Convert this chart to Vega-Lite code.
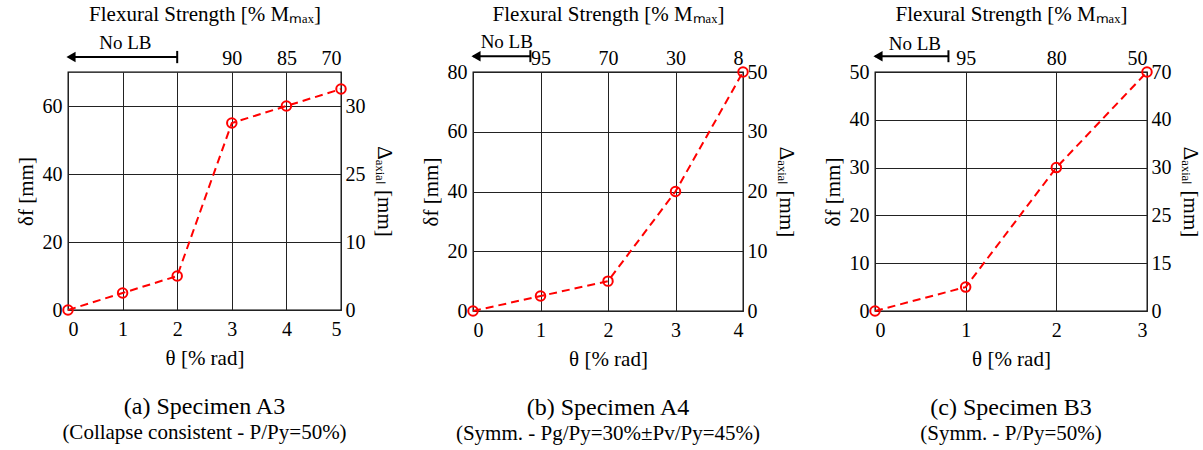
{
  "$schema": "https://vega.github.io/schema/vega-lite/v6.json",
  "padding": {"left": 14, "top": 2, "right": 2, "bottom": 2},
  "background": "white",
  "datasets": {
    "a": [
      {"theta": 0, "delta": 0}, {"theta": 1, "delta": 5}, {"theta": 2, "delta": 10},
      {"theta": 3, "delta": 55}, {"theta": 4, "delta": 60}, {"theta": 5, "delta": 65}
    ],
    "b": [
      {"theta": 0, "delta": 0}, {"theta": 1, "delta": 5}, {"theta": 2, "delta": 10},
      {"theta": 3, "delta": 40}, {"theta": 4, "delta": 80}
    ],
    "c": [
      {"theta": 0, "delta": 0}, {"theta": 1, "delta": 5}, {"theta": 2, "delta": 30},
      {"theta": 3, "delta": 50}
    ],
    "lbA": [{"from": 0, "to": 2, "label": "No LB"}],
    "lbB": [{"from": 0, "to": 0.85, "label": "No LB"}],
    "lbC": [{"from": 0, "to": 0.81, "label": "No LB"}]
  },
  "hconcat": [
    {
      "width": 273, "height": 238,
      "title": {"text": "(a) Specimen A3", "subtitle": "(Collapse consistent - P/Py=50%)"},
      "layer": [
        {
          "data": {"name": "a"},
          "mark": {"type": "line", "color": "#ff0000", "strokeDash": [8, 5], "strokeWidth": 2},
          "encoding": {
            "x": {"field": "theta", "type": "quantitative", "scale": {"domain": [0, 5], "nice": false},
                  "axis": {"orient": "bottom", "values": [0, 1, 2, 3, 4, 5], "grid": true, "title": "θ [% rad]", "format": "d"}},
            "y": {"field": "delta", "type": "quantitative", "scale": {"domain": [0, 70], "nice": false},
                  "axis": {"orient": "left", "values": [0, 20, 40, 60], "grid": true, "title": "δf  [mm]"}}
          }
        },
        {
          "data": {"name": "a"},
          "mark": {"type": "point", "shape": "circle", "filled": false, "color": "#ff0000", "size": 90, "strokeWidth": 2, "opacity": 1},
          "encoding": {
            "x": {"field": "theta", "type": "quantitative", "scale": {"domain": [0, 5], "nice": false},
                  "axis": {"orient": "top", "values": [3, 4, 5], "grid": false, "title": "Flexural Strength [% Mₘₐₓ]",
                           "labelExpr": "datum.value == 3 ? '90' : datum.value == 4 ? '85' : '70'"}},
            "y": {"field": "delta", "type": "quantitative", "scale": {"domain": [0, 70], "nice": false},
                  "axis": {"orient": "right", "values": [0, 20, 40, 60], "grid": false, "title": "Δₐₓᵢₐₗ [mm]",
                           "labelExpr": "datum.value == 0 ? '0' : datum.value == 20 ? '10' : datum.value == 40 ? '25' : '30'"}}
          }
        },
        {
          "data": {"name": "lbA"},
          "mark": {"type": "rule", "color": "black", "strokeWidth": 2},
          "encoding": {"x": {"field": "from", "type": "quantitative", "axis": null}, "x2": {"field": "to"}, "y": {"datum": 74.4, "axis": null}}
        },
        {
          "data": {"name": "lbA"},
          "mark": {"type": "rule", "color": "black", "strokeWidth": 2},
          "encoding": {"x": {"field": "to", "type": "quantitative", "axis": null}, "y": {"datum": 72.6, "axis": null}, "y2": {"datum": 76.2}}
        },
        {
          "data": {"name": "lbA"},
          "mark": {"type": "point", "shape": "triangle-left", "filled": true, "color": "black", "size": 110, "opacity": 1, "xOffset": 3},
          "encoding": {"x": {"field": "from", "type": "quantitative", "axis": null}, "y": {"datum": 74.4, "axis": null}}
        },
        {
          "data": {"name": "lbA"},
          "mark": {"type": "text", "fontSize": 19, "color": "black"},
          "encoding": {"x": {"datum": 1.05, "axis": null}, "y": {"datum": 78.4, "axis": null}, "text": {"field": "label"}}
        }
      ],
      "resolve": {"axis": {"x": "independent", "y": "independent"}}
    },
    {
      "width": 270, "height": 239,
      "title": {"text": "(b) Specimen A4", "subtitle": "(Symm. - Pg/Py=30%±Pv/Py=45%)"},
      "layer": [
        {
          "data": {"name": "b"},
          "mark": {"type": "line", "color": "#ff0000", "strokeDash": [8, 5], "strokeWidth": 2},
          "encoding": {
            "x": {"field": "theta", "type": "quantitative", "scale": {"domain": [0, 4], "nice": false},
                  "axis": {"orient": "bottom", "values": [0, 1, 2, 3, 4], "grid": true, "title": "θ [% rad]", "format": "d"}},
            "y": {"field": "delta", "type": "quantitative", "scale": {"domain": [0, 80], "nice": false},
                  "axis": {"orient": "left", "values": [0, 20, 40, 60, 80], "grid": true, "title": "δf  [mm]"}}
          }
        },
        {
          "data": {"name": "b"},
          "mark": {"type": "point", "shape": "circle", "filled": false, "color": "#ff0000", "size": 90, "strokeWidth": 2, "opacity": 1},
          "encoding": {
            "x": {"field": "theta", "type": "quantitative", "scale": {"domain": [0, 4], "nice": false},
                  "axis": {"orient": "top", "values": [1, 2, 3, 4], "grid": false, "title": "Flexural Strength [% Mₘₐₓ]",
                           "labelExpr": "datum.value == 1 ? '95' : datum.value == 2 ? '70' : datum.value == 3 ? '30' : '8'"}},
            "y": {"field": "delta", "type": "quantitative", "scale": {"domain": [0, 80], "nice": false},
                  "axis": {"orient": "right", "values": [0, 20, 40, 60, 80], "grid": false, "title": "Δₐₓᵢₐₗ [mm]",
                           "labelExpr": "datum.value == 0 ? '0' : datum.value == 20 ? '10' : datum.value == 40 ? '20' : datum.value == 60 ? '30' : '50'"}}
          }
        },
        {
          "data": {"name": "lbB"},
          "mark": {"type": "rule", "color": "black", "strokeWidth": 2},
          "encoding": {"x": {"field": "from", "type": "quantitative", "axis": null}, "x2": {"field": "to"}, "y": {"datum": 85.3, "axis": null}}
        },
        {
          "data": {"name": "lbB"},
          "mark": {"type": "rule", "color": "black", "strokeWidth": 2},
          "encoding": {"x": {"field": "to", "type": "quantitative", "axis": null}, "y": {"datum": 83.3, "axis": null}, "y2": {"datum": 87.3}}
        },
        {
          "data": {"name": "lbB"},
          "mark": {"type": "point", "shape": "triangle-left", "filled": true, "color": "black", "size": 110, "opacity": 1, "xOffset": 3},
          "encoding": {"x": {"field": "from", "type": "quantitative", "axis": null}, "y": {"datum": 85.3, "axis": null}}
        },
        {
          "data": {"name": "lbB"},
          "mark": {"type": "text", "fontSize": 19, "color": "black"},
          "encoding": {"x": {"datum": 0.5, "axis": null}, "y": {"datum": 89.9, "axis": null}, "text": {"field": "label"}}
        }
      ],
      "resolve": {"axis": {"x": "independent", "y": "independent"}}
    },
    {
      "width": 272, "height": 239,
      "title": {"text": "(c) Specimen B3", "subtitle": "(Symm. - P/Py=50%)"},
      "layer": [
        {
          "data": {"name": "c"},
          "mark": {"type": "line", "color": "#ff0000", "strokeDash": [8, 5], "strokeWidth": 2},
          "encoding": {
            "x": {"field": "theta", "type": "quantitative", "scale": {"domain": [0, 3], "nice": false},
                  "axis": {"orient": "bottom", "values": [0, 1, 2, 3], "grid": true, "title": "θ [% rad]", "format": "d"}},
            "y": {"field": "delta", "type": "quantitative", "scale": {"domain": [0, 50], "nice": false},
                  "axis": {"orient": "left", "values": [0, 10, 20, 30, 40, 50], "grid": true, "title": "δf  [mm]"}}
          }
        },
        {
          "data": {"name": "c"},
          "mark": {"type": "point", "shape": "circle", "filled": false, "color": "#ff0000", "size": 90, "strokeWidth": 2, "opacity": 1},
          "encoding": {
            "x": {"field": "theta", "type": "quantitative", "scale": {"domain": [0, 3], "nice": false},
                  "axis": {"orient": "top", "values": [1, 2, 3], "grid": false, "title": "Flexural Strength [% Mₘₐₓ]",
                           "labelExpr": "datum.value == 1 ? '95' : datum.value == 2 ? '80' : '50'"}},
            "y": {"field": "delta", "type": "quantitative", "scale": {"domain": [0, 50], "nice": false},
                  "axis": {"orient": "right", "values": [0, 10, 20, 30, 40, 50], "grid": false, "title": "Δₐₓᵢₐₗ [mm]",
                           "labelExpr": "datum.value == 0 ? '0' : datum.value == 10 ? '15' : datum.value == 20 ? '25' : datum.value == 30 ? '30' : datum.value == 40 ? '40' : '70'"}}
          }
        },
        {
          "data": {"name": "lbC"},
          "mark": {"type": "rule", "color": "black", "strokeWidth": 2},
          "encoding": {"x": {"field": "from", "type": "quantitative", "axis": null}, "x2": {"field": "to"}, "y": {"datum": 53.3, "axis": null}}
        },
        {
          "data": {"name": "lbC"},
          "mark": {"type": "rule", "color": "black", "strokeWidth": 2},
          "encoding": {"x": {"field": "to", "type": "quantitative", "axis": null}, "y": {"datum": 52.05, "axis": null}, "y2": {"datum": 54.55}}
        },
        {
          "data": {"name": "lbC"},
          "mark": {"type": "point", "shape": "triangle-left", "filled": true, "color": "black", "size": 110, "opacity": 1, "xOffset": 3},
          "encoding": {"x": {"field": "from", "type": "quantitative", "axis": null}, "y": {"datum": 53.3, "axis": null}}
        },
        {
          "data": {"name": "lbC"},
          "mark": {"type": "text", "fontSize": 19, "color": "black"},
          "encoding": {"x": {"datum": 0.44, "axis": null}, "y": {"datum": 55.8, "axis": null}, "text": {"field": "label"}}
        }
      ],
      "resolve": {"axis": {"x": "independent", "y": "independent"}}
    }
  ],
  "spacing": 24,
  "config": {
    "font": "Liberation Serif, Times New Roman, serif",
    "text": {"font": "Liberation Serif, Times New Roman, serif"},
    "view": {"stroke": "black", "strokeWidth": 1.3},
    "axis": {
      "labelFont": "Liberation Serif, Times New Roman, serif", "titleFont": "Liberation Serif, Times New Roman, serif",
      "labelFontSize": 20, "titleFontSize": 21, "titleFontWeight": "normal",
      "labelColor": "black", "titleColor": "black",
      "domain": false, "ticks": false, "labelPadding": 6,
      "gridColor": "#222222", "gridOpacity": 1, "gridWidth": 1,
      "titlePadding": 6
    },
    "axisTop": {"titlePadding": 24, "labelPadding": 4},
    "axisBottom": {"labelPadding": 9, "titlePadding": 8},
    "axisRight": {"labelPadding": 4, "titlePadding": 8},
    "title": {
      "orient": "bottom", "anchor": "middle", "font": "Liberation Serif, Times New Roman, serif", "fontSize": 24, "fontWeight": "normal",
      "color": "black", "subtitleFont": "Liberation Serif, Times New Roman, serif", "subtitleFontSize": 21, "subtitleColor": "black",
      "subtitlePadding": 3, "offset": 27
    }
  }
}
